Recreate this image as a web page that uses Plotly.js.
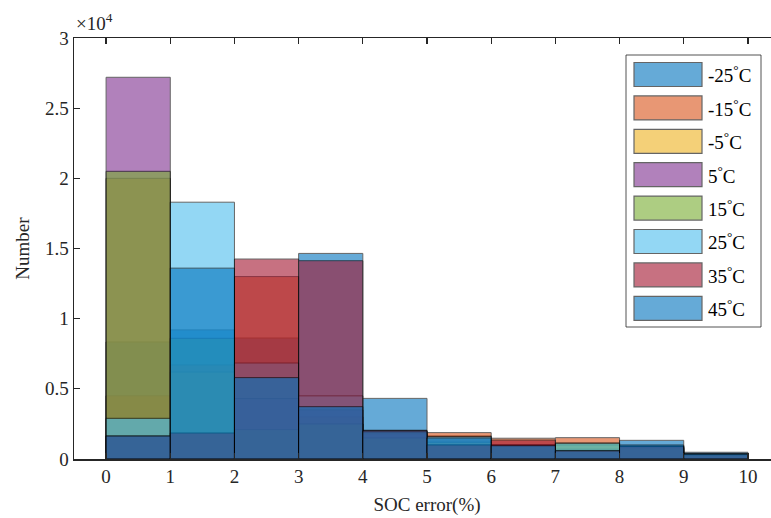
<!DOCTYPE html>
<html>
<head>
<meta charset="utf-8">
<script src="https://cdn.plot.ly/plotly-3.0.1.min.js"></script>
<style>
  html, body { margin: 0; padding: 0; overflow: hidden; background: #fff; }
  #chart { width: 781px; height: 518px; }
</style>
</head>
<body>
<div id="chart"></div>
<script>
// Histogram bin edges of the SOC error (%)
const binEdges = [0, 1, 2, 3, 4, 5, 6, 7, 8, 9, 10];

// Temperature series, in drawing order
const seriesNames = ['-25', '-15', '-5', '5', '15', '25', '35', '45'];

// Counts per bin for each temperature
const countsM25 = [8340, 9200, 8620, 14650, 4320, 1650, 900, 1000, 1330, 480];
const countsM15 = [4500, 6700, 13000, 3000, 2000, 1880, 1480, 1520, 900, 400];
const countsM5  = [20000, 6200, 4300, 2500, 1500, 1200, 1000, 1000, 800, 300];
const counts5   = [27200, 1850, 4300, 3500, 1800, 1000, 1000, 700, 700, 300];
const counts15  = [20500, 8600, 2100, 2500, 1500, 1000, 900, 1130, 800, 300];
const counts25  = [2900, 18300, 6840, 4500, 1900, 1600, 1000, 1130, 900, 350];
const counts35  = [1640, 1850, 14250, 14130, 2050, 1000, 1350, 600, 900, 300];
const counts45  = [1640, 13600, 5800, 3730, 2000, 1500, 950, 580, 1000, 360];

const allCounts = [countsM25, countsM15, countsM5, counts5, counts15, counts25, counts35, counts45];

// Default MATLAB colour order (the eighth series wraps back to the first colour)
const colors = ['#0072BD', '#D95319', '#EDB120', '#7E2F8E', '#77AC30', '#4DBEEE', '#A2142F', '#0072BD'];

// y tick values (counts) and their labels in units of 10^4
const yTickVals = [0, 5000, 10000, 15000, 20000, 25000, 30000];
const yTickText = ['0', '0.5', '1', '1.5', '2', '2.5', '3'];
const xTickVals = [0, 1, 2, 3, 4, 5, 6, 7, 8, 9, 10];

const FONT = 'Liberation Serif, Times New Roman, serif';
const AXIS = '#262626';
const ALPHA = 0.6;

const centers = binEdges.slice(0, -1).map((e, i) => (e + binEdges[i + 1]) / 2);
const widths = binEdges.slice(0, -1).map((e, i) => binEdges[i + 1] - e);

const traces = allCounts.map((counts, k) => ({
  type: 'bar',
  name: seriesNames[k] + '°C',
  x: centers,
  y: counts,
  width: widths,
  opacity: ALPHA,
  marker: { color: colors[k], line: { color: '#000', width: 1 } },
  showlegend: false,
  hoverinfo: 'skip'
}));

// Legend box placed in paper coordinates derived from pixel positions
const W = 781, H = 518;
const mL = 74, mR = 1, mT = 38, mB = 59;
const pw = W - mL - mR, ph = H - mT - mB;
const px = x => (x - mL) / pw;
const py = y => 1 - (y - mT) / ph;

const shapes = [];
const annotations = [];

shapes.push({
  type: 'rect', xref: 'paper', yref: 'paper',
  x0: px(626), x1: px(761), y0: py(327), y1: py(55),
  line: { color: '#262626', width: 0.8 }, fillcolor: '#fff', layer: 'above'
});

seriesNames.forEach((n, k) => {
  const top = 62.5 + k * 33.4;
  shapes.push({
    type: 'rect', xref: 'paper', yref: 'paper',
    x0: px(634), x1: px(702), y0: py(top + 24), y1: py(top),
    fillcolor: colors[k], opacity: ALPHA,
    line: { color: '#000', width: 1.2 }, layer: 'above'
  });
  annotations.push({
    xref: 'paper', yref: 'paper',
    x: px(706), y: py(top + 12),
    xanchor: 'left', yanchor: 'middle',
    text: n + '<sup>°</sup>C', showarrow: false,
    font: { family: FONT, size: 19, color: '#000' }
  });
});

// Exponent label above the y axis
annotations.push({
  xref: 'paper', yref: 'paper',
  x: px(74), y: py(36),
  xanchor: 'left', yanchor: 'bottom',
  text: '×10<sup>4</sup>', showarrow: false,
  font: { family: FONT, size: 19, color: AXIS }
});

const layout = {
  width: W, height: H,
  margin: { l: mL, r: mR, t: mT, b: mB, pad: 0 },
  paper_bgcolor: '#fff', plot_bgcolor: '#fff',
  barmode: 'overlay', bargap: 0,
  font: { family: FONT, size: 19, color: AXIS },
  xaxis: {
    range: [-0.5, 10.5],
    tickvals: xTickVals,
    ticks: 'inside', ticklen: 6, tickcolor: AXIS, tickwidth: 1.3,
    showline: true, linecolor: AXIS, linewidth: 1.5, mirror: 'ticks',
    showgrid: false, zeroline: false,
    tickfont: { family: FONT, size: 19, color: AXIS },
    title: { text: 'SOC error(%)', font: { family: FONT, size: 19, color: AXIS }, standoff: 11 }
  },
  yaxis: {
    range: [0, 30000],
    tickvals: yTickVals, ticktext: yTickText,
    ticks: 'inside', ticklen: 6, tickcolor: AXIS, tickwidth: 1.3,
    showline: true, linecolor: AXIS, linewidth: 1.5,
    showgrid: false, zeroline: false,
    tickfont: { family: FONT, size: 19, color: AXIS },
    title: { text: 'Number', font: { family: FONT, size: 19, color: AXIS }, standoff: 10 }
  },
  shapes: shapes,
  annotations: annotations
};

Plotly.newPlot('chart', traces, layout, { displayModeBar: false, staticPlot: true });
</script>
</body>
</html>
